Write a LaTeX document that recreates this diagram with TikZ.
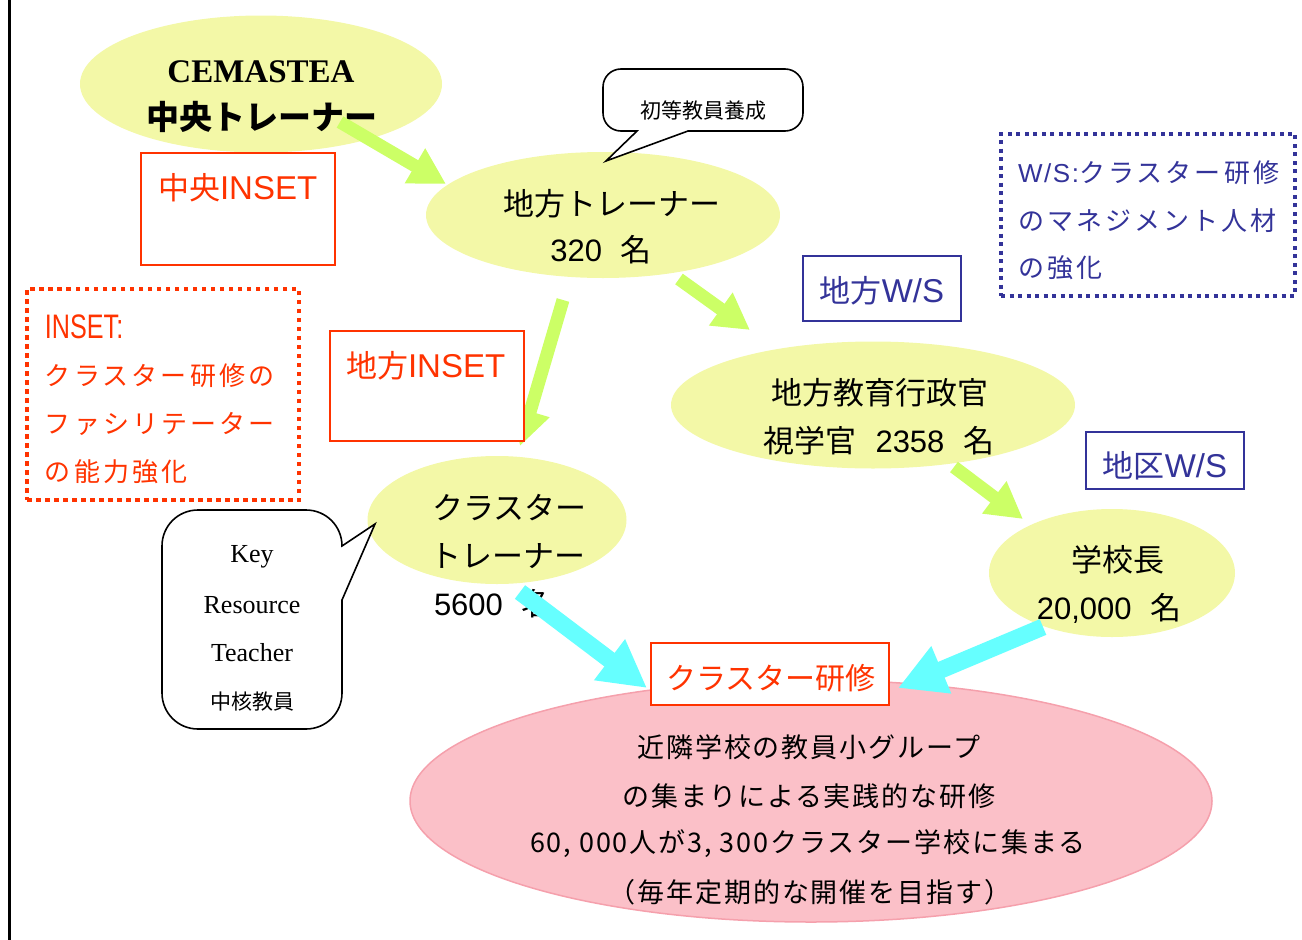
\documentclass[tikz,border=0pt]{standalone}
\usepackage{fontspec}
\usepackage{graphicx}
\setmainfont{Noto Sans CJK JP}
\newfontfamily\jpsp{Noto Sans CJK JP}[LetterSpace=12]
\newfontfamily\jpsq{Noto Sans CJK JP}[LetterSpace=7]
\newfontfamily\arsp{Liberation Sans}[LetterSpace=6]
\newfontfamily\ar{Liberation Sans}
\newfontfamily\tm{Liberation Serif}
\usetikzlibrary{shapes.geometric,arrows.meta}
\definecolor{ylw}{HTML}{F3F8A7}
\definecolor{pnk}{HTML}{FBC0C8}
\definecolor{pnkline}{HTML}{F5A0AC}
\definecolor{rd}{HTML}{FF3300}
\definecolor{bl}{HTML}{333399}
\definecolor{lime}{HTML}{CCFF66}
\definecolor{cyn}{HTML}{66FFFF}
\newcommand{\fs}[1]{\fontsize{#1}{#1}\selectfont}
\newcommand{\lat}[1]{{\ar\fontsize{33}{33}\selectfont #1}}
\tikzset{
  txt/.style={inner sep=0pt, outer sep=0pt},
  blob/.style={ellipse, fill=ylw, inner sep=0pt, draw=none},
  redbox/.style={rectangle, draw=rd, line width=2pt, fill=white, inner sep=0pt},
  bluebox/.style={rectangle, draw=bl, line width=2pt, fill=white, inner sep=0pt},
  reddots/.style={rectangle, draw=rd, line width=4.5pt, dash pattern=on 4.5pt off 4.5pt, inner sep=0pt},
  bluedots/.style={rectangle, draw=bl, line width=4pt, dash pattern=on 4pt off 4.5pt, inner sep=0pt},
  bubble/.style={draw=black, line width=1.6pt, fill=white},
  limearrow/.style={draw=lime, line width=13pt, -{Triangle[length=36pt,width=38pt]}},
  cyanarrow/.style={draw=cyn, line width=17pt, -{Triangle[length=47pt,width=48pt]}},
}
\begin{document}
\begin{tikzpicture}[x=1pt,y=-1pt]
\useasboundingbox (0,0) rectangle (1302,940);
% left border
\draw[line width=3pt] (9.5,0) -- (9.5,940);

% ellipses
\node[blob, minimum width=362pt, minimum height=137pt] (cem) at (261,84) {};
\node[blob, minimum width=354pt, minimum height=126pt] (rt) at (603,215) {};
\node[blob, minimum width=404pt, minimum height=127pt] (reo) at (873,405) {};
\node[blob, minimum width=259pt, minimum height=128pt] (ct) at (497,520) {};
\node[blob, minimum width=246pt, minimum height=128pt] (hd) at (1112,573) {};
\node[ellipse, fill=pnk, draw=pnkline, line width=1.5pt, inner sep=0pt,
      minimum width=802pt, minimum height=242pt] (cl) at (811,801) {};

% ellipse texts
\node[txt, font=\tm\bfseries\fs{33}] (cemA) at (261,72) {CEMASTEA};
\node[txt, font=\bfseries\fs{33}] (cemB) at (262,117) {中央トレーナー};
\node[txt, font=\fs{31}] (rtA) at (612,204) {地方トレーナー};
\node[txt, font=\fs{31}] (rtB) at (601,250) {{\ar 320}\hspace{0.6em}名};
\node[txt, font=\fs{31}] (reoA) at (880,393) {地方教育行政官};
\node[txt, font=\fs{31}] (reoB) at (879,441) {視学官\hspace{0.6em}{\ar 2358}\hspace{0.6em}名};
\node[txt, font=\fs{31}, anchor=west] (ctA) at (432,508) {クラスター};
\node[txt, font=\fs{31}, anchor=west] (ctB) at (430,556) {トレーナー};
\node[txt, font=\fs{31}, anchor=west] (ctC) at (434,604) {{\ar 5600}\hspace{0.6em}名};
\node[txt, font=\fs{31}] (hdA) at (1118,560) {学校長};
\node[txt, font=\fs{31}] (hdB) at (1109,608) {{\ar 20,000}\hspace{0.6em}名};

\node[txt, font=\jpsq\fs{27}] (clA) at (809,747) {近隣学校の教員小グループ};
\node[txt, font=\jpsq\fs{27}] (clB) at (809,796) {の集まりによる実践的な研修};
\node[txt, font=\fs{27}] (clC) at (808,844) {{\jpsq 60, 000人が3, 300クラスター学校に集まる}};
\node[txt, font=\jpsq\fs{27}] (clD) at (810,892) {（毎年定期的な開催を目指す）};

% arrows
\coordinate (a1s) at (340,122);  \coordinate (a1e) at (446,184);
\coordinate (a2s) at (679,279);  \coordinate (a2e) at (750,330);
\coordinate (a3s) at (563,300);  \coordinate (a3e) at (520,446);
\coordinate (a4s) at (954,467);  \coordinate (a4e) at (1023,519);
\coordinate (c1s) at (520,592);  \coordinate (c1e) at (647,688);
\coordinate (c2s) at (1043,627); \coordinate (c2e) at (898,688);
\draw[limearrow] (a1s) -- (a1e);
\draw[limearrow] (a2s) -- (a2e);
\draw[limearrow] (a3s) -- (a3e);
\draw[limearrow] (a4s) -- (a4e);
\draw[cyanarrow] (c1s) -- (c1e);
\draw[cyanarrow] (c2s) -- (c2e);

% boxes
\node[redbox, minimum width=194pt, minimum height=112pt] (b1) at (238,209) {};
\node[txt, font=\fs{31}, text=rd, anchor=west] (b1t) at (158,188) {中央\lat{INSET}};
\node[redbox, minimum width=194pt, minimum height=110pt] (b2) at (427,386) {};
\node[txt, font=\fs{31}, text=rd, anchor=west] (b2t) at (346,366) {地方\lat{INSET}};
\node[bluebox, minimum width=158pt, minimum height=65pt] (b3) at (882,288.5) {};
\node[txt, font=\fs{31}, text=bl] (b3t) at (882,291) {地方\lat{W/S}};
\node[bluebox, minimum width=158pt, minimum height=57pt] (b4) at (1165,460.5) {};
\node[txt, font=\fs{31}, text=bl] (b4t) at (1165,466) {地区\lat{W/S}};
\node[redbox, minimum width=238pt, minimum height=62pt] (b5) at (770,674) {};
\node[txt, font=\fs{30}, text=rd] (b5t) at (771,678) {クラスター研修};

% dotted boxes
\node[reddots, minimum width=272pt, minimum height=211pt] (d1) at (163,394.5) {};
\node[txt, anchor=west, text=rd] (d1a) at (45,327) {\scalebox{0.74}[1]{\ar\fs{34}INSET:}};
\node[txt, anchor=west, text=rd, font=\jpsp\fs{26}] (d1b) at (45,376) {クラスター研修の};
\node[txt, anchor=west, text=rd, font=\jpsp\fs{26}] (d1c) at (45,424) {ファシリテーター};
\node[txt, anchor=west, text=rd, font=\jpsp\fs{26}] (d1d) at (45,472) {の能力強化};

\node[bluedots, minimum width=294pt, minimum height=162pt] (d2) at (1148,214.5) {};
\node[txt, anchor=west, text=bl, font=\fs{26}] (d2a) at (1018,173) {{\arsp W/S:}{\jpsp クラスター研修}};
\node[txt, anchor=west, text=bl, font=\jpsp\fs{26}] (d2b) at (1018,221) {のマネジメント人材};
\node[txt, anchor=west, text=bl, font=\jpsp\fs{26}] (d2c) at (1018,268) {の強化};

% speech bubbles
\draw[bubble] (606,161) -- (688,131) -- (785,131) .. controls (795,131) and (803,123) .. (803,113)
  -- (803,87) .. controls (803,77) and (795,69) .. (785,69) -- (621,69) .. controls (611,69) and (603,77) .. (603,87)
  -- (603,113) .. controls (603,123) and (611,131) .. (621,131) -- (637,131) -- cycle;
\node[txt, font=\fs{21}] (bubA) at (703,111) {初等教員養成};

\draw[bubble] (375,524) -- (342,600) -- (342,693) .. controls (342,713) and (326,729) .. (306,729)
  -- (198,729) .. controls (178,729) and (162,713) .. (162,693) -- (162,546) .. controls (162,526) and (178,510) .. (198,510)
  -- (306,510) .. controls (326,510) and (342,526) .. (342,546) -- cycle;
\node[txt, font=\tm\fs{26}] (krA) at (252,557) {Key};
\node[txt, font=\tm\fs{26}] (krB) at (252,605) {Resource};
\node[txt, font=\tm\fs{26}] (krC) at (252,653) {Teacher};
\node[txt, font=\fs{21}] (krD) at (252,702) {中核教員};
\end{tikzpicture}
\end{document}
